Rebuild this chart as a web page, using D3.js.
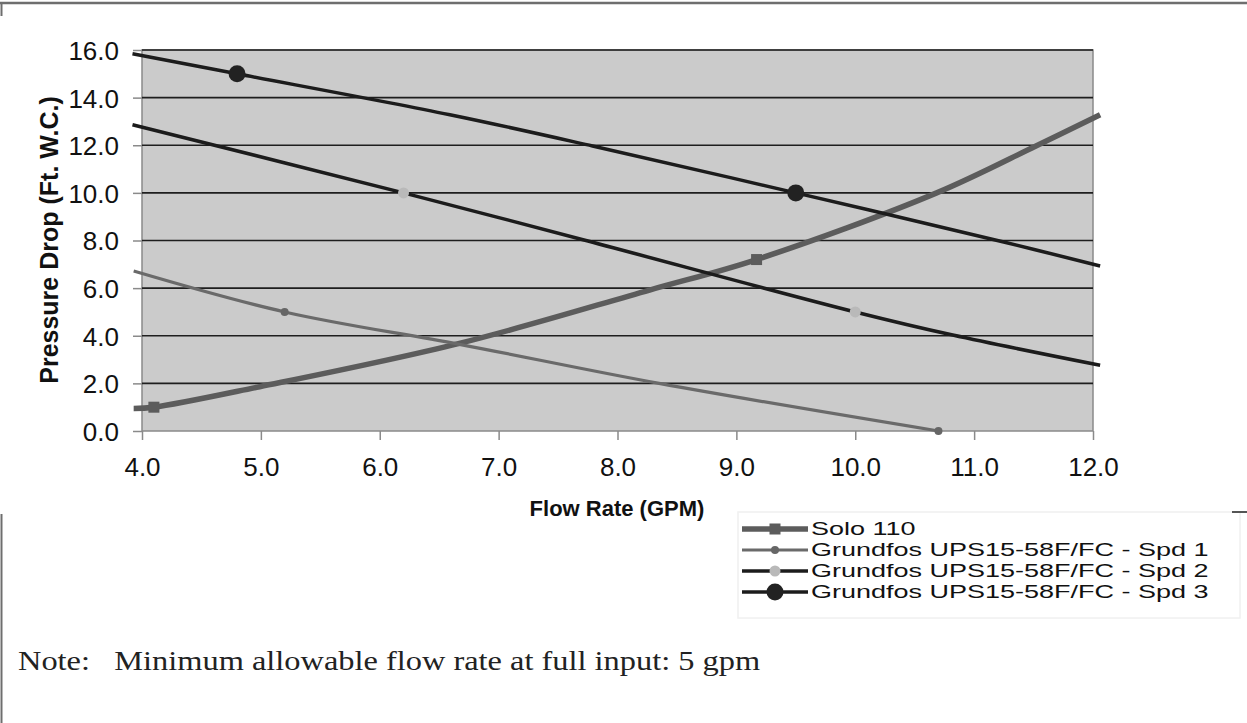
<!DOCTYPE html>
<html>
<head>
<meta charset="utf-8">
<script src="https://cdn.jsdelivr.net/npm/d3@7/dist/d3.min.js"></script>
<style>
  body { margin: 0; background: #fff; }
  svg { display: block; }
</style>
</head>
<body>
<svg id="chart" width="1247" height="723"></svg>
<script>
// ticks
var xTicks = [4, 5, 6, 7, 8, 9, 10, 11, 12];
var yTicks = [0, 2, 4, 6, 8, 10, 12, 14, 16];

var soloX = [3.93, 4.1, 4.99, 6.67, 8.27, 9.17, 10.68, 11.52, 12.06];
var soloY = [0.95, 1.0, 1.86, 3.68, 5.92, 7.2, 9.99, 11.97, 13.28];
var soloPtX = [4.1, 9.17];
var soloPtY = [1.0, 7.2];

// Grundfos speed 1
var spd1X = [3.93, 5.2, 6.67, 8.35, 10.7];
var spd1Y = [6.72, 5.0, 3.64, 2.0, 0.0];
var spd1PtX = [5.2, 10.7];
var spd1PtY = [5.0, 0.0];

// Grundfos speed 2
var spd2X = [3.92, 6.2, 7.71, 10.0, 10.82, 12.06];
var spd2Y = [12.86, 10.0, 8.03, 5.0, 4.03, 2.76];
var spd2PtX = [6.2, 10.0];
var spd2PtY = [10.0, 5.0];

// Grundfos speed 3
var spd3X = [3.92, 4.8, 6.59, 7.79, 9.5, 11.24, 12.06];
var spd3Y = [15.84, 15.0, 13.28, 11.97, 10.0, 7.95, 6.93];
var spd3PtX = [4.8, 9.5];
var spd3PtY = [15.0, 10.0];

var legendNames = ["Solo 110", "Grundfos UPS15-58F/FC - Spd 1", "Grundfos UPS15-58F/FC - Spd 2", "Grundfos UPS15-58F/FC - Spd 3"];

var svg = d3.select("#chart");
var sans = "'Liberation Sans', Arial, sans-serif";

var x = d3.scaleLinear().domain([4, 12]).range([142, 1093]);
var y = d3.scaleLinear().domain([0, 16]).range([431, 50]);

// page frame bits
svg.append("line").attr("x1", 0).attr("x2", 1247).attr("y1", 3).attr("y2", 3)
  .style("stroke", "#6e6e6e").style("stroke-width", 2.5);
svg.append("line").attr("x1", 1.5).attr("x2", 1.5).attr("y1", 3).attr("y2", 16)
  .style("stroke", "#6e6e6e").style("stroke-width", 2);
svg.append("line").attr("x1", 1.5).attr("x2", 1.5).attr("y1", 514).attr("y2", 723)
  .style("stroke", "#6e6e6e").style("stroke-width", 2);

// plot area
svg.append("rect")
  .attr("x", x(4)).attr("y", y(16))
  .attr("width", x(12) - x(4)).attr("height", y(0) - y(16))
  .style("fill", "#cbcbcb").style("stroke", "#8a8a8a").style("stroke-width", 1.5);

svg.append("g").selectAll("line").data(yTicks.filter(function(d){ return d > 0; })).enter()
  .append("line")
  .attr("x1", x(4)).attr("x2", x(12))
  .attr("y1", function(d){ return y(d); }).attr("y2", function(d){ return y(d); })
  .style("stroke", "#1e1e1e").style("stroke-width", 1.6);

// axes
var yAxis = svg.append("g").attr("transform", "translate(" + x(4) + ",0)")
  .call(d3.axisLeft(y).tickValues(yTicks).tickSize(9).tickFormat(d3.format(".1f")));
var xAxis = svg.append("g").attr("transform", "translate(0," + y(0) + ")")
  .call(d3.axisBottom(x).tickValues(xTicks).tickSize(9).tickFormat(d3.format(".1f")));

[yAxis, xAxis].forEach(function(a) {
  a.select(".domain").remove();
  a.selectAll(".tick line").style("stroke", "#8a8a8a").style("stroke-width", 1.5);
  a.selectAll("text").style("font-family", sans).style("font-size", "26px").style("fill", "#111");
});
yAxis.selectAll("text").attr("x", -23).attr("dy", "0.36em");
xAxis.selectAll("text").attr("y", 45).attr("dy", "0");

// axis titles
svg.append("text")
  .attr("transform", "translate(58,240) rotate(-90)")
  .attr("text-anchor", "middle")
  .style("font-family", sans).style("font-weight", "bold").style("font-size", "25px").style("fill", "#111")
  .text("Pressure Drop (Ft. W.C.)");

svg.append("text")
  .attr("x", 617).attr("y", 516)
  .attr("text-anchor", "middle")
  .style("font-family", sans).style("font-weight", "bold").style("font-size", "22px").style("fill", "#111")
  .text("Flow Rate (GPM)");

// series
var line = d3.line()
  .x(function(d){ return x(d[0]); })
  .y(function(d){ return y(d[1]); })
  .curve(d3.curveCatmullRom.alpha(0.5));

function pairs(xs, ys) { return xs.map(function(v, i){ return [v, ys[i]]; }); }

var series = [
  { pts: pairs(soloX, soloY), marks: pairs(soloPtX, soloPtY), color: "#5c5c5c", width: 5.5, mark: "square", size: 11, mcolor: "#5c5c5c" },
  { pts: pairs(spd1X, spd1Y), marks: pairs(spd1PtX, spd1PtY), color: "#6a6a6a", width: 3.2, mark: "circle", size: 4, mcolor: "#666" },
  { pts: pairs(spd2X, spd2Y), marks: pairs(spd2PtX, spd2PtY), color: "#1c1c1c", width: 3.5, mark: "circle", size: 5.5, mcolor: "#b9b9b9" },
  { pts: pairs(spd3X, spd3Y), marks: pairs(spd3PtX, spd3PtY), color: "#1c1c1c", width: 3.5, mark: "circle", size: 8.5, mcolor: "#222" }
];

series.forEach(function(s) {
  svg.append("path").attr("d", line(s.pts))
    .style("fill", "none").style("stroke", s.color).style("stroke-width", s.width)
    .style("stroke-linejoin", "round");
});

function drawMark(g, s, cx, cy) {
  if (s.mark === "square") {
    g.append("rect").attr("x", cx - s.size / 2).attr("y", cy - s.size / 2)
      .attr("width", s.size).attr("height", s.size).style("fill", s.mcolor);
  } else {
    g.append("circle").attr("cx", cx).attr("cy", cy).attr("r", s.size).style("fill", s.mcolor);
  }
}

series.forEach(function(s) {
  s.marks.forEach(function(p) { drawMark(svg, s, x(p[0]), y(p[1])); });
});

// legend
var legend = svg.append("g");
legend.append("rect").attr("x", 738).attr("y", 512).attr("width", 502).attr("height", 106)
  .style("fill", "none").style("stroke", "#f0f0f0").style("stroke-width", 1.5);
svg.append("line").attr("x1", 1232).attr("x2", 1247).attr("y1", 512).attr("y2", 512)
  .style("stroke", "#555").style("stroke-width", 2);

var rowY = [529, 550, 571, 592];
series.forEach(function(s, i) {
  var ly = rowY[i];
  legend.append("line").attr("x1", 742).attr("x2", 808).attr("y1", ly).attr("y2", ly)
    .style("stroke", s.color).style("stroke-width", s.width);
  drawMark(legend, s, 775, ly);
  legend.append("text")
    .attr("transform", "translate(811," + ly + ") scale(1.5,1)")
    .attr("dy", "0.36em")
    .style("font-family", sans).style("font-size", "18px").style("fill", "#111")
    .text(legendNames[i]);
});

// note
svg.append("text")
  .attr("transform", "translate(18,670) scale(1.2,1)")
  .attr("xml:space", "preserve")
  .style("white-space", "pre")
  .style("font-family", "'Liberation Serif', 'Times New Roman', serif").style("font-size", "27px").style("fill", "#222")
  .text("Note:   Minimum allowable flow rate at full input: 5 gpm");
</script>
</body>
</html>
